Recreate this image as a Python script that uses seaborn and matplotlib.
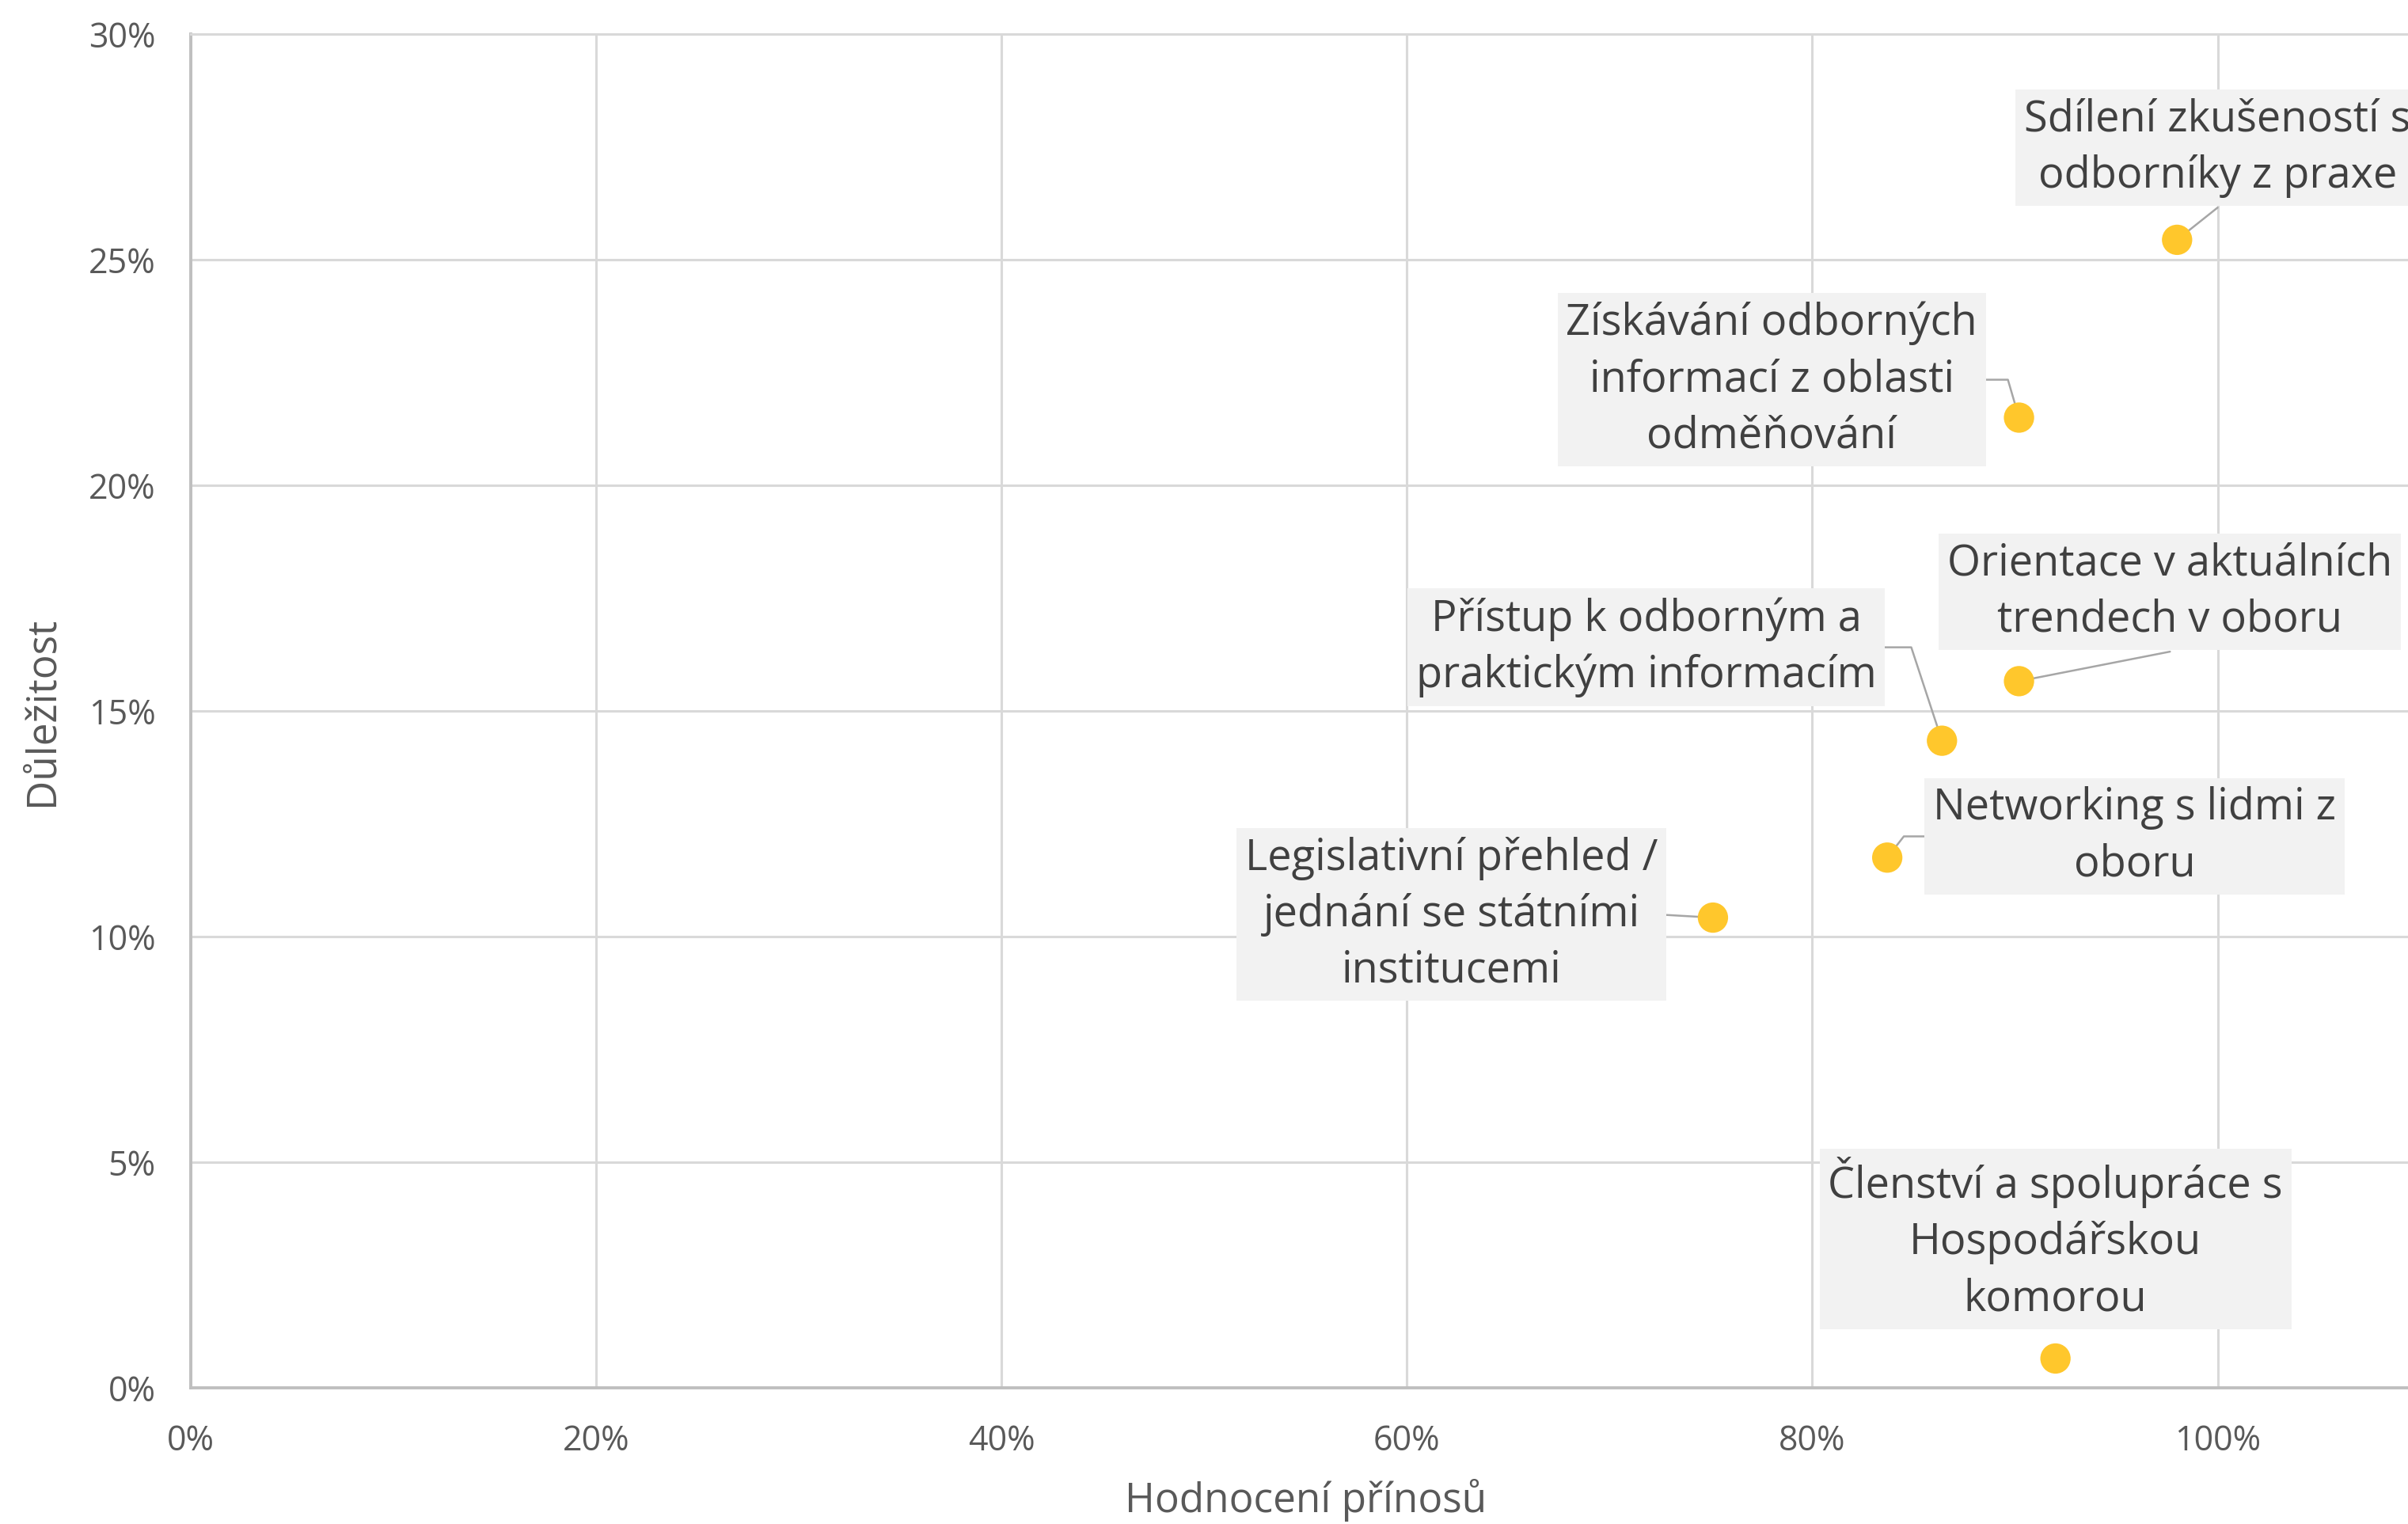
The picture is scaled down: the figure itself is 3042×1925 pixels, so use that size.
"""scatter of benefit vs. importance with boxed callout labels"""

import matplotlib.pyplot as plt
import pandas as pd
import seaborn as sns
from matplotlib.ticker import MultipleLocator, PercentFormatter

labels = [
    "Sdílení zkušeností s\nodborníky z praxe",
    "Získávání odborných\ninformací z oblasti\nodměňování",
    "Orientace v aktuálních\ntrendech v oboru",
    "Přístup k odborným a\npraktickým informacím",
    "Networking s lidmi z\noboru",
    "Legislativní přehled /\njednání se státními\ninstitucemi",
    "Členství a spolupráce s\nHospodářskou\nkomorou",
]
prinos = [0.980, 0.902, 0.902, 0.864, 0.837, 0.751, 0.920]
dulezitost = [0.2544, 0.2150, 0.1566, 0.1434, 0.1175, 0.1042, 0.0065]

# where the callout boxes sit (data coords) and how the leader line leaves them
label_x = [1.000, 0.780, 0.9765, 0.718, 0.959, 0.622, 0.920]
label_y = [0.2748, 0.2234, 0.1764, 0.1641, 0.1222, 0.1049, 0.0330]
leaders = [
    ((0.5, -0.1), "arc3"),
    ((1.0, 0.5), "angle,angleA=0,angleB=-73.7,rad=0"),
    ((0.5, -0.1), "arc3"),
    ((1.0, 0.5), "angle,angleA=0,angleB=-71.8,rad=0"),
    ((0.0, 0.5), "angle,angleA=0,angleB=52,rad=0"),
    ((1.0, 0.5), "arc3"),
    None,
]

df = pd.DataFrame({"label": labels, "prinos": prinos, "dulezitost": dulezitost})

sns.set_theme(style="whitegrid")
plt.rcParams["font.family"] = ["Open Sans", "DejaVu Sans"]

W, H = 3042, 1925
fig = plt.figure(figsize=(W / 100, H / 100), dpi=100)
x0, y0 = 241, 1753
px_per_unit = 2560.5
xmax = 1.10
ax = fig.add_axes([x0 / W, (H - y0) / H, xmax * px_per_unit / W, (y0 - 43) / H])

sns.scatterplot(
    data=df,
    x="prinos",
    y="dulezitost",
    ax=ax,
    s=760,
    color="#ffc72c",
    edgecolor="none",
    zorder=5,
)

for i, txt in enumerate(labels):
    arrow = None
    if leaders[i] is not None:
        relpos, cstyle = leaders[i]
        arrow = dict(
            arrowstyle="-",
            color="#a6a6a6",
            lw=1.8,
            relpos=relpos,
            connectionstyle=cstyle,
            shrinkA=0,
            shrinkB=0,
        )
        if relpos[1] < 0:
            # start exactly on the lower edge of the box
            arrow["patchA"] = None
    ax.annotate(
        txt,
        xy=(prinos[i], dulezitost[i]),
        xytext=(label_x[i], label_y[i]),
        textcoords="data",
        ha="center",
        va="center",
        multialignment="center",
        fontsize=39,
        color="#404040",
        linespacing=1.38,
        bbox=dict(boxstyle="square,pad=0.2", fc="#f2f2f2", ec="none"),
        arrowprops=arrow,
        annotation_clip=False,
        zorder=4,
    )

ax.set_xlim(0, xmax)
ax.set_ylim(0, 0.30)
ax.xaxis.set_major_locator(MultipleLocator(0.2))
ax.yaxis.set_major_locator(MultipleLocator(0.05))
ax.xaxis.set_major_formatter(PercentFormatter(xmax=1, decimals=0))
ax.yaxis.set_major_formatter(PercentFormatter(xmax=1, decimals=0))

ax.grid(True, color="#d9d9d9", lw=2.2)
ax.tick_params(axis="both", length=0, labelsize=31, labelcolor="#595959")
ax.tick_params(axis="x", pad=33)
ax.tick_params(axis="y", pad=32)

ax.spines["right"].set_visible(False)
ax.spines["top"].set_color("#d9d9d9")
ax.spines["top"].set_linewidth(2.2)
for side in ["left", "bottom"]:
    ax.spines[side].set_color("#bfbfbf")
    ax.spines[side].set_linewidth(2.8)

ax.set_xlabel("Hodnocení přínosů", fontsize=37, color="#595959", labelpad=18)
ax.set_ylabel("Důležitost", fontsize=37, color="#595959", labelpad=24)

fig.savefig("out.png", dpi=100)
